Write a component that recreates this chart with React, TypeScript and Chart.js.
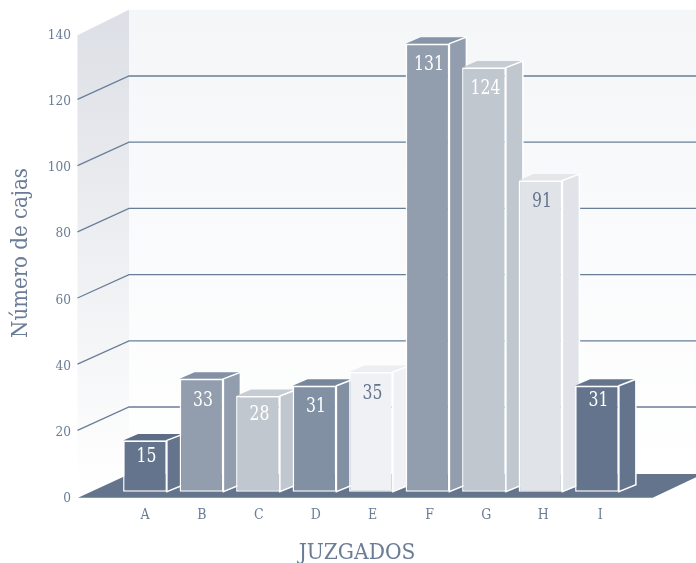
import React, { useEffect, useRef } from "react";
import { Chart, registerables } from "chart.js";

Chart.register(...registerables);

const categories = ["A", "B", "C", "D", "E", "F", "G", "H", "I"];
const values = [15, 33, 28, 31, 35, 131, 124, 91, 31];
const yTicks = [0, 20, 40, 60, 80, 100, 120, 140];
const frontColors = ["#64748c", "#929eae", "#c0c7cf", "#8190a3", "#f0f1f5", "#929eae", "#c0c7cf", "#e0e3e8", "#64748c"];
const topColors = ["#5d6d85", "#8291a4", "#c6ccd3", "#76879c", "#eceef2", "#8695a7", "#c6ccd3", "#e4e6ea", "#64748c"];
const valueLabelColors = ["#ffffff", "#ffffff", "#ffffff", "#ffffff", "#64748c", "#ffffff", "#ffffff", "#64748c", "#ffffff"];
const valueLabelDrops = [16, 22, 19, 21, 22, 21, 21, 21, 15];

const INK = "#6a7c96";
const SERIF = "'DejaVu Serif Condensed', 'DejaVu Serif', serif";
const DX = 51.5;
const DY = 23.4;

function drawText(ctx: CanvasRenderingContext2D, text: string, x: number, y: number, size: number, sx = 1, rot = 0) {
  ctx.save();
  ctx.translate(x, y);
  ctx.rotate(rot);
  ctx.scale(sx, 1);
  ctx.font = `${size}px ${SERIF}`;
  ctx.textAlign = "center";
  ctx.textBaseline = "middle";
  ctx.fillText(text, 0, 0);
  ctx.restore();
}

const scenePlugin = {
  id: "scene3d",
  beforeDatasetsDraw(chart: any) {
    const ctx: CanvasRenderingContext2D = chart.ctx;
    const y = chart.scales.y;
    const W = chart.width;
    const frontX = 77.5;
    const backX = frontX + DX;
    const y0 = y.getPixelForValue(0);
    const yTop = y.getPixelForValue(140);
    ctx.save();

    const backGrad = ctx.createLinearGradient(0, yTop - DY, 0, y0 - DY);
    backGrad.addColorStop(0, "#f5f6f8");
    backGrad.addColorStop(0.55, "#fafbfc");
    backGrad.addColorStop(1, "#ffffff");
    ctx.fillStyle = backGrad;
    ctx.fillRect(backX, yTop - DY, W - backX, y0 - yTop);

    const sideGrad = ctx.createLinearGradient(0, yTop - DY, 0, y0 - 10);
    sideGrad.addColorStop(0, "#dcdfe5");
    sideGrad.addColorStop(1, "#ffffff");
    ctx.fillStyle = sideGrad;
    ctx.beginPath();
    ctx.moveTo(frontX, yTop + 2);
    ctx.lineTo(backX, yTop - DY);
    ctx.lineTo(backX, y0 - DY);
    ctx.lineTo(frontX, y0);
    ctx.closePath();
    ctx.fill();

    ctx.strokeStyle = "#6a7d98";
    ctx.lineWidth = 1.3;
    yTicks.filter((t) => t > 0 && t < 140).forEach((t) => {
      const py = y.getPixelForValue(t);
      ctx.beginPath();
      ctx.moveTo(frontX, py);
      ctx.lineTo(backX, py - DY);
      ctx.lineTo(W, py - DY);
      ctx.stroke();
    });

    ctx.fillStyle = "#64748c";
    ctx.beginPath();
    ctx.moveTo(78, y0 + 1.1);
    ctx.lineTo(129.5, y0 - 22.6);
    ctx.lineTo(703, y0 - 22.6);
    ctx.lineTo(652.7, y0 + 1.1);
    ctx.closePath();
    ctx.fill();

    const bars = chart.getDatasetMeta(0).data;
    bars.forEach((bar: any, i: number) => {
      const l = bar.x - bar.width / 2;
      const r = bar.x + bar.width / 2;
      const t = bar.y;
      const b = bar.base;
      ctx.fillStyle = topColors[i];
      ctx.beginPath();
      ctx.moveTo(l, t);
      ctx.lineTo(l + 15, t - 6.5);
      ctx.lineTo(r + 17, t - 6.5);
      ctx.lineTo(r, t);
      ctx.closePath();
      ctx.fill();
      ctx.fillStyle = frontColors[i];
      ctx.strokeStyle = "#ffffff";
      ctx.lineWidth = 1.5;
      ctx.beginPath();
      ctx.moveTo(r, t);
      ctx.lineTo(r + 17, t - 6.5);
      ctx.lineTo(r + 17, b - 7);
      ctx.lineTo(r, b);
      ctx.closePath();
      ctx.fill();
      ctx.stroke();
    });
    ctx.restore();
  },
  afterDatasetsDraw(chart: any) {
    const ctx: CanvasRenderingContext2D = chart.ctx;
    const bars = chart.getDatasetMeta(0).data;
    bars.forEach((bar: any, i: number) => {
      ctx.fillStyle = valueLabelColors[i];
      drawText(ctx, String(values[i]), bar.x + 1.5, bar.y + valueLabelDrops[i], 20, 0.87);
    });
    ctx.fillStyle = INK;
    drawText(ctx, "JUZGADOS", 357, 553, 22.5);
    drawText(ctx, "Número de cajas", 21, 253, 22, 1, -Math.PI / 2);
  },
};

export default function App() {
  const ref = useRef<HTMLCanvasElement>(null);
  useEffect(() => {
    document.body.style.margin = "0";
    const chart = new Chart(ref.current as HTMLCanvasElement, {
      type: "bar",
      data: {
        labels: categories,
        datasets: [
          {
            label: "Número de cajas",
            data: values,
            xAxisID: "xCat",
            yAxisID: "yBar",
            backgroundColor: frontColors,
            borderColor: "#ffffff",
            borderWidth: 1.5,
            borderSkipped: false,
            barPercentage: 0.775,
            categoryPercentage: 1,
          },
        ],
      },
      options: {
        animation: false,
        responsive: false,
        layout: { padding: { top: 33.2, right: 70.75, bottom: 0, left: 0 } },
        plugins: { legend: { display: false }, tooltip: { enabled: false }, title: { display: false } },
        scales: {
          xCat: { type: "category", position: "bottom", display: false, offset: true, grid: { display: false } },
          yBar: { type: "linear", position: "left", display: false, min: -1.43, max: 134.06, grid: { display: false } },
          xTick: {
            type: "linear",
            position: "bottom",
            offset: false,
            min: -0.496,
            max: 8.44,
            border: { display: false },
            grid: { display: false, drawTicks: false, offset: false },
            afterBuildTicks: (s: any) => {
              s.ticks = categories.map((_, i) => ({ value: i }));
            },
            afterFit: (s: any) => {
              s.height = 66.4;
            },
            ticks: {
              autoSkip: false,
              maxRotation: 0,
              padding: 10,
              color: INK,
              font: { family: SERIF, size: 14 },
              callback: (v: any) => categories[v as number],
            },
          },
          y: {
            type: "linear",
            position: "left",
            min: 0,
            max: 140,
            border: { display: false },
            grid: { display: false, drawTicks: false },
            afterBuildTicks: (s: any) => {
              s.ticks = yTicks.map((value) => ({ value }));
            },
            afterFit: (s: any) => {
              s.width = 116.75;
              s.paddingTop = 0;
              s.paddingBottom = 0;
            },
            ticks: {
              padding: 45.75,
              labelOffset: 2,
              color: INK,
              font: { family: SERIF, size: 13.5 },
            },
          },
        },
      } as any,
      plugins: [scenePlugin],
    });
    return () => chart.destroy();
  }, []);
  return (
    <div style={{ width: 696, height: 563 }}>
      <canvas ref={ref} width={696} height={563} style={{ display: "block" }} />
    </div>
  );
}
